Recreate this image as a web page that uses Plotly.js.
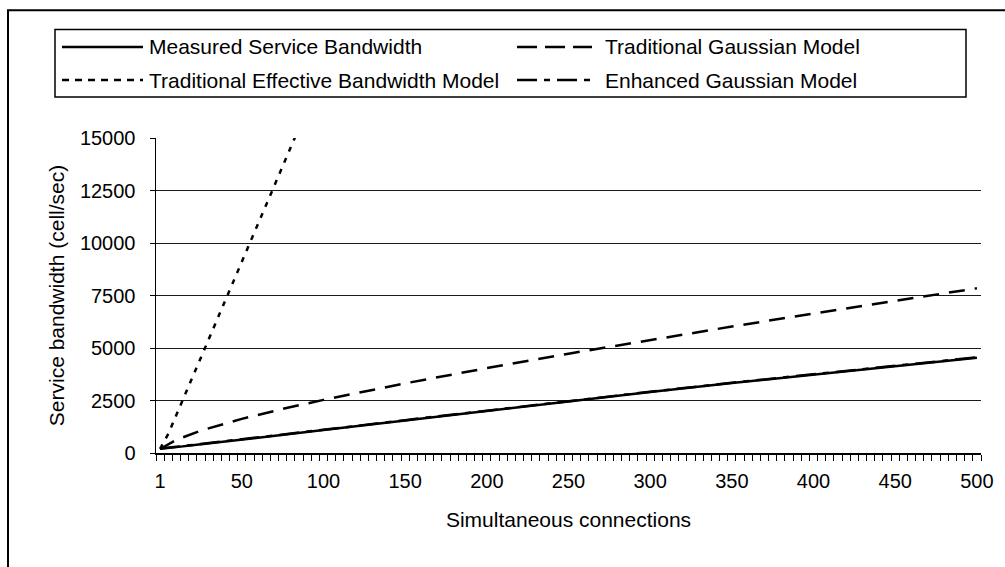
<!DOCTYPE html>
<html>
<head>
<meta charset="utf-8">
<script src="https://cdn.plot.ly/plotly-3.0.1.min.js"></script>
<style>
  html, body { margin: 0; padding: 0; background: #ffffff; }
  #chart { width: 1005px; height: 567px; }
</style>
</head>
<body>
<div id="chart"></div>
<script>
// ---- data ----
const categories = [1,5,10,15,20,25,30,35,40,45,50,55,60,65,70,75,80,85,90,95,
  100,105,110,115,120,125,130,135,140,145,150,155,160,165,170,175,180,185,190,195,
  200,205,210,215,220,225,230,235,240,245,250,255,260,265,270,275,280,285,290,295,
  300,305,310,315,320,325,330,335,340,345,350,355,360,365,370,375,380,385,390,395,
  400,405,410,415,420,425,430,435,440,445,450,455,460,465,470,475,480,485,490,495,500];
const xTickLabels = [1,50,100,150,200,250,300,350,400,450,500];
const connections = [1,5,10,25,50,75,100,150,200,250,300,350,400,450,500];
const seriesNames = ['Measured Service Bandwidth','Traditional Gaussian Model',
  'Traditional Effective Bandwidth Model','Enhanced Gaussian Model'];
const measured = [200,235,280,415,650,870,1090,1550,2010,2470,2900,3330,3740,4140,4540];
const tradGaussian = [190,428,629,1068,1625,2099,2530,3317,4041,4728,5385,6022,6642,7249,7844];
const tradEffective = [200,910,1820,4550,9100,13650,18200,null,null,null,null,null,null,null,null];
const enhancedGaussian = [215,250,295,430,665,885,1105,1565,2025,2485,2915,3345,3755,4155,4555];
const yTicks = [0,2500,5000,7500,10000,12500,15000];

// ---- layout geometry (pixels) ----
const W = 1005, H = 567;
const mL = 156, mR = 24, mT = 138, mB = 114;
const pw = W - mL - mR, ph = H - mT - mB;
const px = v => (v - mL) / pw;
const py = v => (H - mB - v) / ph;

const FONT = '"Liberation Sans", Arial, sans-serif';
const cat = categories.map(String);
const xs = connections.map(String);

const dashes = ['solid', '16px,10px', '5px,7px', '20px,7px,6px,7px'];
const widths = [2.5, 2.5, 2.5, 2.5];
const ys = [measured, tradGaussian, tradEffective, enhancedGaussian];
const drawOrder = [3, 0, 1, 2];

const traces = drawOrder.map(i => ({
  type: 'scatter', mode: 'lines', name: seriesNames[i],
  x: xs, y: ys[i], showlegend: false, hoverinfo: 'skip',
  line: { color: '#000000', width: widths[i], dash: dashes[i] }
}));

// custom legend
const legendRows = [47, 80];
const legendCols = [{l0: 62, l1: 143, t: 147}, {l0: 517, l1: 592, t: 603}];
const legendDashes = ['solid', '20px,8px', '7px,6px', '20px,7px,6px,7px'];
const shapes = [
  // outer chart border
  { type: 'rect', xref: 'paper', yref: 'paper', x0: px(8), x1: px(1020), y0: py(590), y1: py(10.3),
    line: { color: '#000000', width: 2 }, fillcolor: 'rgba(0,0,0,0)' },
  // legend box
  { type: 'rect', xref: 'paper', yref: 'paper', x0: px(55), x1: px(966), y0: py(97), y1: py(29.5),
    line: { color: '#000000', width: 1.5 }, fillcolor: 'rgba(0,0,0,0)' }
];
const annotations = [];
seriesNames.forEach((name, i) => {
  const row = legendRows[Math.floor(i / 2)];
  const col = legendCols[i % 2];
  shapes.push({ type: 'line', xref: 'paper', yref: 'paper', x0: px(col.l0), x1: px(col.l1),
    y0: py(row), y1: py(row), line: { color: '#000000', width: 2.5, dash: legendDashes[i] } });
  annotations.push({ xref: 'paper', yref: 'paper', x: px(col.t), y: py(row), text: name,
    showarrow: false, xanchor: 'left', yanchor: 'middle',
    font: { family: FONT, size: 21, color: '#000000' } });
});

const tickText = cat.map(c => xTickLabels.includes(Number(c)) ? c : '');

const layout = {
  width: W, height: H,
  margin: { l: mL, r: mR, t: mT, b: mB, pad: 0 },
  paper_bgcolor: '#ffffff', plot_bgcolor: '#ffffff',
  font: { family: FONT, size: 20, color: '#000000' },
  showlegend: false,
  xaxis: {
    type: 'category', categoryorder: 'array', categoryarray: cat,
    range: [-0.5, categories.length - 0.5],
    tickmode: 'array', tickvals: cat, ticktext: tickText, tickson: 'boundaries', tickangle: 0,
    ticks: 'outside', ticklen: 6, tickwidth: 1, tickcolor: '#000000',
    showline: true, linecolor: '#000000', linewidth: 1.5,
    showgrid: false, zeroline: false, fixedrange: true,
    tickfont: { family: FONT, size: 20, color: '#000000' }, ticklabelstandoff: 9,
    title: { text: 'Simultaneous connections', font: { family: FONT, size: 21, color: '#000000' }, standoff: 22 }
  },
  yaxis: {
    range: [0, 15000], tickmode: 'array', tickvals: yTicks, ticktext: yTicks.map(String),
    ticks: 'outside', ticklen: 5, tickwidth: 1, tickcolor: '#000000',
    showline: true, linecolor: '#000000', linewidth: 1.5,
    showgrid: true, gridcolor: '#1a1a1a', gridwidth: 1, zeroline: false, fixedrange: true,
    tickfont: { family: FONT, size: 20, color: '#000000' }, ticklabelstandoff: 10,
    title: { text: 'Service bandwidth (cell/sec)', font: { family: FONT, size: 21, color: '#000000' }, standoff: 9 }
  },
  shapes: shapes,
  annotations: annotations
};

Plotly.newPlot('chart', traces, layout, { staticPlot: true, displayModeBar: false });
</script>
</body>
</html>
